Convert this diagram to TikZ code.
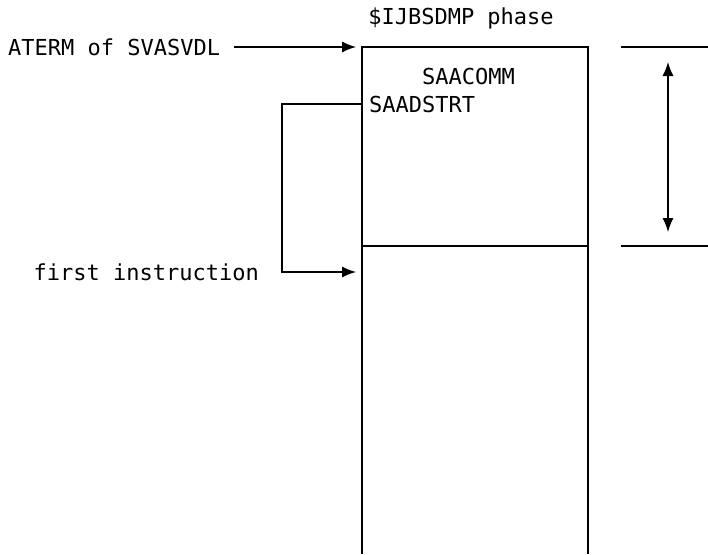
\documentclass[tikz,border=0pt]{standalone}
\usepackage{fontspec}
\setmonofont{DejaVu Sans Mono}
\usetikzlibrary{arrows.meta, positioning}
\tikzset{
    lbl/.style={font=\ttfamily\fontsize{22}{26}\selectfont, inner sep=0pt},
    wire/.style={line width=1.3pt},
    ptr/.style={-{Latex[length=14pt, width=11pt]}, line width=1.3pt},
    span/.style={{Latex[length=14pt, width=11pt]}-{Latex[length=14pt, width=11pt]}, line width=1.3pt},
}
\begin{document}
\begin{tikzpicture}[x=1pt, y=-1pt]
    \useasboundingbox (0,0) rectangle (708,554);
    % phase box
    \coordinate (boxTL) at (362,47);
    \coordinate (boxTR) at (588,47);
    \coordinate (boxBL) at (362,554);
    \coordinate (boxBR) at (588,554);
    \coordinate (divL) at (362,246);
    \coordinate (divR) at (588,246);
    \coordinate (strt) at (362,104);
    \coordinate (first) at (362,272);
    \draw[wire] (boxBL) -- (boxTL) -- (boxTR) -- (boxBR);
    \draw[wire] (divL) -- (divR);

    \node[lbl] (phase) at (461,18) {\$IJBSDMP phase};
    \node[lbl, anchor=west] (comm) at (422,76) {SAACOMM};
    \node[lbl, anchor=west] (dstrt) at (369,104) {SAADSTRT};
    \node[lbl, anchor=west] (aterm) at (8,47) {ATERM of SVASVDL};
    \node[lbl, anchor=east] (instr) at (259,272) {first instruction};

    \draw[ptr, shorten >=6pt] ([xshift=14pt]aterm.east) -- (boxTL);
    \draw[ptr, shorten >=6pt] (strt) -- ++(-80,0) |- (first);

    % length of SAACOMM
    \coordinate (topR) at (621,47);
    \coordinate (botR) at (621,246);
    \draw[wire] (topR) -- ++(87,0);
    \draw[wire] (botR) -- ++(87,0);
    \draw[span] ([xshift=47pt, yshift=-15pt]topR) -- ([xshift=47pt, yshift=14pt]botR);
\end{tikzpicture}
\end{document}
